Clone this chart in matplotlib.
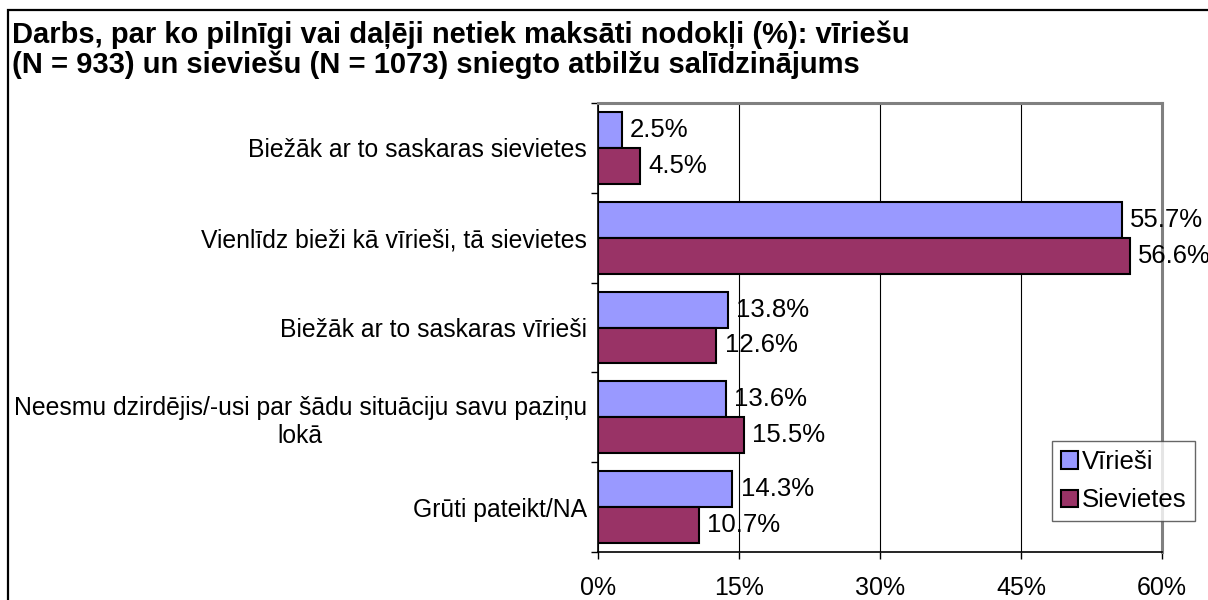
import matplotlib
matplotlib.use("Agg")
import matplotlib.pyplot as plt
from matplotlib.patches import Rectangle, Patch
import numpy as np

plt.rcParams['font.family'] = ['Liberation Sans', 'DejaVu Sans']

title_lines = ["Darbs, par ko pilnīgi vai daļēji netiek maksāti nodokļi (%): vīriešu",
               "(N = 933) un sieviešu (N = 1073) sniegto atbilžu salīdzinājums"]
categories = [
    "Biežāk ar to saskaras sievietes",
    "Vienlīdz bieži kā vīrieši, tā sievietes",
    "Biežāk ar to saskaras vīrieši",
    "Neesmu dzirdējis/-usi par šādu situāciju savu paziņu\nlokā",
    "Grūti pateikt/NA",
]
series_names = ["Vīrieši", "Sievietes"]
viriesi = [2.5, 55.7, 13.8, 13.6, 14.3]
sievietes = [4.5, 56.6, 12.6, 15.5, 10.7]
xticks = [0, 15, 30, 45, 60]
xticklabels = ["0%", "15%", "30%", "45%", "60%"]

colors = ["#9999FF", "#993366"]

W, H = 1208, 600
fig = plt.figure(figsize=(W / 100, H / 100), dpi=100)

# outer frame (cropped chart area border)
fig.patches.append(Rectangle((8 / W, -0.1), 1.2, 1.1 - 10 / H,
                             transform=fig.transFigure, fill=False,
                             edgecolor="black", linewidth=1.6, zorder=0))

for line, base in zip(title_lines, [43, 73]):
    fig.text(12 / W, 1 - base / H, line, ha="left", va="baseline", fontsize=21,
             fontweight="bold")

ax = fig.add_axes([598 / W, 1 - 552 / H, (1162 - 598) / W, (552 - 103) / H])

n = len(categories)
y = np.arange(n)
h = 0.4
bars1 = ax.barh(y - h / 2, viriesi, height=h, color=colors[0], edgecolor="black",
                linewidth=1.5, label=series_names[0], zorder=3)
bars2 = ax.barh(y + h / 2, sievietes, height=h, color=colors[1], edgecolor="black",
                linewidth=1.5, label=series_names[1], zorder=3)

for bars, vals in ((bars1, viriesi), (bars2, sievietes)):
    for b, v in zip(bars, vals):
        ax.annotate(f"{v:.1f}%", (v, b.get_y() + b.get_height() / 2),
                    xytext=(6, 0), textcoords="offset points",
                    ha="left", va="center", fontsize=18.5, zorder=5)

ax.set_xlim(0, 60)
ax.set_ylim(n - 0.5, -0.5)
ax.set_xticks(xticks)
ax.set_xticklabels(xticklabels, fontsize=18)
ax.set_yticks(np.arange(-0.5, n, 1.0), minor=False)
ax.set_yticklabels([])
ax.set_yticks(y, minor=True)
ax.set_yticklabels(categories, minor=True, fontsize=17.8, multialignment="center")
ax.tick_params(axis="y", which="minor", length=0, pad=8)
ax.tick_params(axis="y", which="major", length=5, width=1, direction="out")
ax.tick_params(axis="x", length=5, width=1, direction="out", pad=12)

ax.grid(axis="x", color="black", linewidth=0.8, zorder=0)
ax.set_axisbelow(True)
for s in ("top", "right"):
    ax.spines[s].set_color("#808080")
    ax.spines[s].set_linewidth(2.2)
for s in ("left", "bottom"):
    ax.spines[s].set_color("black")
    ax.spines[s].set_linewidth(1.2)

handles = [Patch(facecolor=colors[0], edgecolor="black", linewidth=1.5),
           Patch(facecolor=colors[1], edgecolor="black", linewidth=1.5)]
leg = fig.legend(handles, series_names, loc="upper left",
                 bbox_to_anchor=(1052 / W, 1 - 441 / H), fontsize=18.5,
                 frameon=True, fancybox=False, edgecolor="#404040",
                 handlelength=0.65, handleheight=0.65, handletextpad=0.15,
                 borderpad=0.35, labelspacing=0.55, borderaxespad=0)
leg.get_frame().set_linewidth(1.0)

fig.savefig("out.png", dpi=100, facecolor="white")
